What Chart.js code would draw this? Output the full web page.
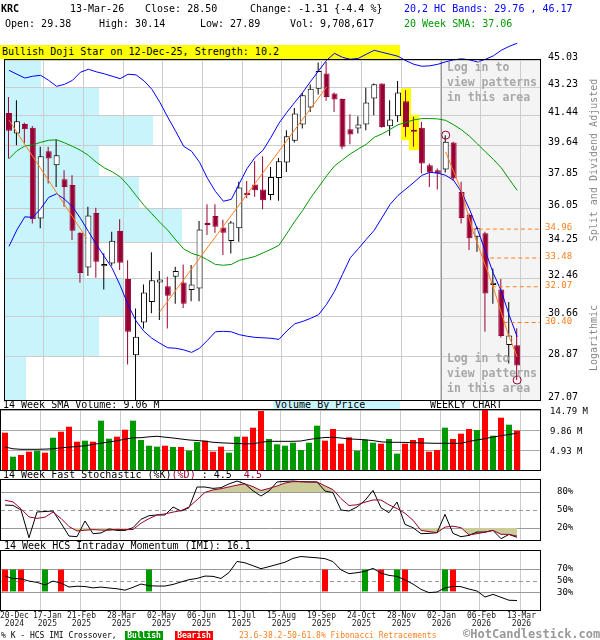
<!DOCTYPE html>
<html>
<head>
<meta charset="utf-8">
<script src="https://cdn.jsdelivr.net/npm/chart.js@4.4.1/dist/chart.umd.min.js"></script>
<style>
  body { margin: 0; background: #fff; }
  #wrap { position: relative; width: 600px; height: 640px; overflow: hidden;
          font-family: "DejaVu Sans Mono", monospace; font-size: 10px; color: #000; }
  canvas { position: absolute; left: 0; top: 0; }
  .t { position: absolute; white-space: pre; line-height: 12px; }
  .s8 { font-size: 8px; line-height: 9px; }
  .vert { color: #888; transform: translate(-50%, -50%) rotate(-90deg); }
  .login { position: absolute; left: 447px; white-space: pre; font-size: 11.5px; font-weight: bold;
           line-height: 15px; color: #a8a8a8; }
</style>
</head>
<body>
<div id="wrap">
  <div class="t" style="left:0;top:45px;width:398px;height:14px;line-height:14px;padding-left:2px;background:#ffff00">Bullish Doji Star on 12-Dec-25, Strength: 10.2</div>
  <div class="t" style="left:273px;top:400px;width:125px;height:10px;line-height:10px;padding-left:2px;background:#c8f5fc">Volume By Price</div>

  <canvas id="mainChart" width="600" height="640"></canvas>
  <canvas id="volChart" width="600" height="640"></canvas>
  <canvas id="stochChart" width="600" height="640"></canvas>
  <canvas id="imiChart" width="600" height="640"></canvas>

  <div class="t" style="left:1px;top:3px;font-weight:bold">KRC</div>
  <div class="t" style="left:70px;top:3px">13-Mar-26</div>
  <div class="t" style="left:145px;top:3px">Close: 28.50</div>
  <div class="t" style="left:250px;top:3px">Change: -1.31 {-4.4 %}</div>
  <div class="t" style="left:5px;top:18px">Open: 29.38</div>
  <div class="t" style="left:99px;top:18px">High: 30.14</div>
  <div class="t" style="left:200px;top:18px">Low: 27.89</div>
  <div class="t" style="left:290px;top:18px">Vol: 9,708,617</div>
  <div class="t" style="left:404px;top:3px;color:#0000ff">20,2 HC Bands: 29.76 , 46.17</div>
  <div class="t" style="left:404px;top:18px;color:#009900">20 Week SMA: 37.06</div>

  <div class="login" style="top:60px">Log in to
view patterns
in this area</div>
  <div class="login" style="top:351px">Log in to
view patterns
in this area</div>

  <div class="t vert" style="left:594px;top:160px">Split and Dividend Adjusted</div>
  <div class="t vert" style="left:594px;top:338px">Logarithmic</div>

  <div class="t" style="left:3px;top:399px">14 Week SMA Volume: 9.06 M</div>
  <div class="t" style="left:430px;top:399px">WEEKLY CHART</div>
  <div class="t" style="left:3px;top:469px">14 Week Fast Stochastic (%K)<span style="color:#990033">(%D)</span> : 4.5  <span style="color:#990033">4.5</span></div>
  <div class="t" style="left:4px;top:540px">14 Week HCS Intraday Momentum (IMI): 16.1</div>

  <div class="t s8" style="left:1px;top:631px">% K - HCS IMI Crossover,</div>
  <div class="t s8" style="left:125px;top:631px;width:38px;text-align:center;background:#009900;color:#fff;font-weight:bold">Bullish</div>
  <div class="t s8" style="left:175px;top:631px;width:38px;text-align:center;background:#ff0000;color:#fff;font-weight:bold">Bearish</div>
  <div class="t s8" style="left:239px;top:631px;color:#ff7f1e">23.6-38.2-50-61.8% Fibonacci Retracements</div>
  <div class="t" style="left:463px;top:628px;font-size:12px;font-weight:bold;color:#999">©HotCandlestick.com</div>
</div>

<script>
// weekly candles, 20-Dec-2024 .. 13-Mar-2026
const opens = [41.60, 40.34, 40.92, 40.68, 35.52, 39.28, 38.47, 37.67, 37.34, 34.77,
  33.01, 35.81, 33.07, 33.21, 34.86, 32.44, 28.95, 30.40, 31.35, 32.28,
  32.10, 32.55, 32.28, 31.91, 31.99, 35.26, 35.65, 35.05, 34.34, 35.00,
  36.91, 37.38, 37.10, 36.79, 37.74, 38.62, 39.90, 40.88, 41.94, 43.14,
  44.13, 42.83, 42.47, 40.59, 40.64, 40.88, 42.51, 43.47, 40.78, 41.40,
  42.34, 40.50, 40.68, 38.47, 38.18, 38.22, 39.80, 36.96, 35.70, 34.56,
  34.74, 32.15, 31.94, 29.39, 29.38];
const highs = [42.61, 42.40, 41.00, 40.80, 39.54, 39.54, 39.98, 38.18, 37.90, 34.80,
  36.15, 36.10, 33.72, 34.82, 35.48, 33.37, 31.04, 32.18, 33.77, 32.83,
  32.55, 33.04, 33.16, 33.13, 35.39, 36.29, 36.29, 35.46, 35.39, 37.53,
  37.57, 38.70, 38.99, 38.37, 38.89, 40.54, 41.91, 42.87, 43.41, 44.86,
  44.90, 42.89, 42.51, 41.52, 41.40, 43.20, 43.47, 43.47, 42.40, 43.63,
  43.04, 41.36, 41.04, 38.57, 38.28, 40.24, 39.84, 37.53, 35.79, 35.09,
  34.82, 32.96, 32.44, 31.35, 30.14];
const lows = [38.86, 39.64, 39.76, 35.26, 35.00, 37.43, 37.24, 36.15, 34.39, 32.26,
  32.59, 32.50, 31.94, 33.10, 32.88, 28.55, 26.90, 30.13, 30.82, 30.51,
  30.13, 31.27, 31.07, 31.38, 31.38, 34.65, 34.77, 33.63, 33.71, 34.30,
  36.61, 36.70, 36.02, 36.51, 36.47, 38.08, 39.80, 40.64, 41.66, 42.76,
  42.36, 41.66, 39.40, 39.70, 40.34, 40.54, 41.46, 40.68, 40.20, 41.04,
  40.14, 39.54, 38.00, 37.24, 37.09, 38.05, 37.57, 35.26, 33.88, 33.79,
  29.98, 31.27, 29.72, 28.59, 27.89];
const closes = [40.50, 41.09, 40.60, 35.48, 38.99, 38.86, 39.05, 37.24, 34.87, 32.74,
  35.68, 33.29, 33.18, 34.35, 33.24, 29.98, 29.76, 31.80, 32.39, 32.42,
  31.64, 32.84, 31.27, 32.18, 34.94, 35.17, 35.08, 34.77, 35.31, 37.21,
  36.79, 37.06, 36.51, 37.80, 38.70, 40.18, 41.56, 42.72, 43.14, 44.30,
  42.61, 42.45, 39.54, 40.28, 40.88, 42.26, 43.43, 40.74, 41.19, 42.89,
  40.74, 40.44, 38.57, 38.05, 38.00, 39.84, 37.71, 35.55, 34.48, 35.00,
  31.75, 32.26, 29.79, 29.81, 28.50];

// 20,2 bands and 20 week SMA
const bbUpper = [44.34, 44.08, 43.83, 43.95, 44.01, 43.68, 43.29, 43.42, 43.68, 44.21,
  44.41, 44.24, 44.11, 43.95, 43.79, 44.08, 44.04, 43.65, 43.10, 42.27,
  41.33, 40.47, 39.57, 39.28, 38.64, 37.72, 36.99, 36.45, 36.55, 37.42,
  38.29, 38.93, 39.34, 40.11, 40.96, 41.64, 42.27, 42.90, 43.62, 44.31,
  45.01, 45.48, 45.21, 45.08, 45.14, 45.42, 45.69, 45.55, 45.42, 45.28,
  44.98, 44.74, 44.61, 44.64, 44.74, 44.91, 45.04, 45.11, 45.04, 44.90,
  45.08, 45.31, 45.69, 45.96, 46.17];
const bbLower = [34.07, 34.92, 35.61, 35.58, 36.05, 36.66, 36.86, 36.56, 36.15, 35.53,
  34.84, 34.17, 33.56, 32.97, 32.14, 31.21, 30.47, 30.00, 29.69, 29.47,
  29.27, 29.25, 29.18, 29.07, 29.25, 29.60, 29.98, 30.00, 29.98, 29.85,
  29.78, 29.73, 29.71, 29.69, 29.64, 30.02, 30.34, 30.45, 30.59, 30.76,
  31.24, 31.85, 32.67, 33.50, 33.95, 34.43, 34.90, 35.58, 36.28, 36.77,
  37.13, 37.50, 37.89, 38.06, 38.02, 37.89, 37.61, 36.94, 36.01, 34.95,
  33.82, 32.72, 31.87, 30.73, 29.76];
const sma20 = [38.84, 39.31, 39.59, 39.66, 39.81, 39.93, 39.96, 39.78, 39.57, 39.34,
  39.04, 38.64, 38.32, 38.09, 37.81, 37.33, 36.77, 36.23, 35.77, 35.32,
  34.90, 34.40, 33.94, 33.72, 33.59, 33.39, 33.16, 33.12, 33.16, 33.36,
  33.46, 33.56, 33.74, 33.92, 34.12, 34.74, 35.37, 35.96, 36.64, 37.24,
  37.86, 38.43, 38.78, 39.13, 39.42, 39.69, 40.11, 40.32, 40.59, 40.87,
  41.02, 41.17, 41.25, 41.25, 41.23, 41.14, 40.87, 40.56, 40.17, 39.72,
  39.25, 38.81, 38.32, 37.67, 37.05];

// volume, millions
const volumes = [9.19, 3.28, 3.70, 4.51, 4.76, 4.27, 7.96, 9.44, 10.67, 6.98,
  7.23, 6.98, 12.16, 7.72, 8.21, 9.93, 12.16, 7.40, 5.99, 5.75,
  5.99, 5.67, 5.67, 4.76, 6.90, 7.23, 4.51, 5.75, 4.27, 8.21,
  8.21, 10.43, 14.55, 7.64, 6.33, 5.99, 6.73, 4.93, 6.73, 10.92,
  7.23, 10.11, 6.49, 8.05, 4.76, 7.48, 6.73, 6.49, 7.64, 4.03,
  6.49, 7.40, 7.89, 4.51, 4.93, 10.43, 7.64, 8.95, 10.11, 9.86,
  14.79, 8.46, 12.89, 11.17, 9.71];
const volSma = [5.67, 5.23, 5.10, 5.10, 5.10, 5.15, 5.23, 5.47, 5.62, 5.79,
  5.97, 6.29, 6.61, 6.90, 7.22, 7.59, 7.94, 7.96, 8.18, 8.31,
  8.09, 7.89, 7.64, 7.40, 7.27, 7.10, 6.83, 6.70, 6.61, 6.53,
  6.46, 6.46, 6.83, 7.07, 7.07, 7.07, 7.07, 7.15, 7.52, 7.81,
  8.01, 8.06, 7.89, 7.64, 7.57, 7.44, 7.25, 6.95, 6.83, 6.83,
  6.80, 6.75, 6.68, 6.61, 6.58, 6.58, 6.58, 6.58, 7.03, 7.40,
  7.72, 8.13, 8.45, 8.75, 9.06];

// 14 week fast stochastic and IMI
const stochK = [58.2, 57.7, 50, 3.8, 46.7, 47.5, 48.3, 28, 6.6, 5.5,
  31.7, 10.5, 11.7, 18.5, 16, 16, 20.5, 34.5, 40.5, 41.7,
  41.7, 55, 48.3, 53.8, 88.3, 88.3, 86, 87.2, 93.5, 98.3,
  93.5, 82, 73.3, 81.7, 96.7, 97.7, 98.3, 97.2, 96.7, 96.7,
  81.7, 78.8, 50, 48.3, 55, 66, 82.7, 53.8, 45.5, 63.3,
  26, 20.5, 10.5, 11, 12.2, 42.7, 11, 5.5, 7.7, 13.3,
  13.3, 16, 2.2, 9.3, 4.5];
const stochD = [66.3, 63.5, 52, 38.5, 36, 38, 46.5, 36, 22.5, 15,
  16.3, 17.3, 16.5, 16.2, 17.7, 17.2, 17.5, 28, 35.5, 41.7,
  43.5, 46.5, 49, 55, 67, 79.5, 83.5, 85.5, 88.5, 91.5,
  93.5, 89, 82.5, 86, 90, 95, 97.2, 97.2, 97, 96.7,
  90.2, 84, 69, 57.5, 58.7, 63, 66.7, 66.7, 58.5, 52.5,
  44.5, 33, 16, 14, 12.2, 21.5, 23, 20.5, 8.5, 10.5,
  13, 16, 9.5, 9.3, 6.5];
const imi = [57.5, 53.3, 53.0, 49.0, 46.8, 42.5, 49.0, 45.5, 39.0, 40.3,
  39.8, 37.5, 38.8, 37.3, 36.0, 33.6, 38.5, 44.0, 41.2, 40.6,
  40.6, 43.3, 47.5, 51.4, 53.5, 57.5, 57.0, 53.5, 63.5, 82.3,
  80.0, 75.0, 70.0, 73.5, 77.2, 81.0, 87.5, 90.7, 89.5, 88.5,
  87.0, 82.0, 68.0, 61.6, 63.2, 65.5, 70.5, 62.5, 58.7, 57.0,
  51.0, 44.0, 35.0, 29.5, 30.5, 37.5, 40.1, 39.5, 35.5, 32.2,
  22.0, 26.5, 21.5, 16.5, 16.1];
const bullishCross = [1, 5, 18, 45, 49, 55];
const bearishCross = [0, 2, 7, 40, 47, 50, 56];

// axes
const priceTicks = [45.03, 43.23, 41.44, 39.64, 37.85, 36.05, 34.25, 32.46, 30.66, 28.87, 27.07];
const volumeTicks = [4.93, 9.86, 14.79];
const stochLevels = [20, 50, 80];
const imiLevels = [30, 50, 70];
const dateLabels = ['20-Dec', '17-Jan', '21-Feb', '28-Mar', '02-May', '06-Jun', '11-Jul',
  '15-Aug', '19-Sep', '24-Oct', '28-Nov', '02-Jan', '06-Feb', '13-Mar'];
const yearLabels = ['2024', '2025', '2025', '2025', '2025', '2025', '2025',
  '2025', '2025', '2025', '2025', '2026', '2026', '2026'];
const labelWeeks = [0, 4, 9, 14, 19, 24, 29, 34, 39, 44, 49, 54, 59, 64];

// volume by price, price zones between the ticks, top to bottom
const vbpVolume = [36, 95, 149, 95, 135, 178, 81, 120, 95, 21];

// overlays
const trendWeeks = [[0, 9.75], [19, 40], [55, 57, 58.3, 60.9, 62.9, 64]];
const trendPrices = [[41.15, 34.50], [30.89, 43.25], [39.24, 37.0, 35.0, 32.15, 29.83, 28.87]];
const fibLevels = [34.96, 33.48, 32.07, 30.40];
const fibStartWeek = [58.3, 60.6, 60.8, 62.3];
const patternWeeks = [50, 51];
const hiddenFromWeek = 54;

const maroon = '#990033';
const upGreen = '#009900';
const downRed = '#ff0000';
const orange = '#ff7f1e';
const khaki = '#cccc99';
const FONT = 'DejaVu Sans Mono';
const X_MIN = -0.5, X_MAX = 66.875, GRID_SHIFT = 0.375;

Chart.defaults.font.family = FONT;
Chart.defaults.color = '#000';

const isUp = i => closes[i] >= opens[i];
const pts = arr => arr.map((v, i) => ({ x: i, y: v }));

function weekAxis(extra) {
  return Object.assign({
    type: 'linear', min: X_MIN, max: X_MAX, offset: false,
    afterBuildTicks: s => { s.ticks = labelWeeks.slice(1).map(w => ({ value: w + GRID_SHIFT })); },
    afterFit: s => { s.height = 0; },
    ticks: { display: false, autoSkip: false },
    border: { display: false },
    grid: { color: '#cccccc', drawTicks: false, offset: false }
  }, extra || {});
}

function rightAxis(extra) {
  return Object.assign({
    position: 'right',
    afterFit: s => { s.width = 60; },
    border: { display: false }
  }, extra);
}

function baseOptions(top, bottom, scales) {
  return {
    responsive: false, animation: false, devicePixelRatio: 1, events: [],
    layout: { padding: { left: 1, right: 0, top: top, bottom: 640 - bottom } },
    plugins: { legend: { display: false }, tooltip: { enabled: false } },
    scales: scales
  };
}

const frame = {
  id: 'frame',
  afterDraw(chart) {
    const { ctx, chartArea: a } = chart;
    ctx.save();
    ctx.strokeStyle = '#000';
    ctx.lineWidth = 1;
    ctx.strokeRect(a.left - 0.5, a.top - 0.5, a.right - a.left + 1, a.bottom - a.top + 1);
    ctx.restore();
  }
};

function levelLines(solid, dashed) {
  return {
    id: 'levels',
    beforeDatasetsDraw(chart) {
      const { ctx, chartArea: a, scales: { y } } = chart;
      ctx.save();
      ctx.strokeStyle = '#999999';
      ctx.lineWidth = 1;
      const line = v => {
        const py = Math.round(y.getPixelForValue(v)) + 0.5;
        ctx.beginPath(); ctx.moveTo(a.left, py); ctx.lineTo(a.right, py); ctx.stroke();
      };
      solid.forEach(line);
      ctx.setLineDash([4, 3]);
      dashed.forEach(line);
      ctx.restore();
    }
  };
}

// ---- price panel
const mainDecor = {
  id: 'mainDecor',
  beforeDraw(chart) {
    const { ctx, chartArea: a, scales: { x, y } } = chart;
    ctx.save();
    const hx = Math.round(x.getPixelForValue(hiddenFromWeek + GRID_SHIFT));
    ctx.fillStyle = '#f4f4f4';
    ctx.fillRect(hx, a.top, a.right - hx, a.bottom - a.top);
    const vmax = Math.max(...vbpVolume);
    ctx.fillStyle = '#c8f5fc';
    vbpVolume.forEach((v, k) => {
      const t = Math.round(y.getPixelForValue(priceTicks[k]));
      const b = Math.round(y.getPixelForValue(priceTicks[k + 1]));
      ctx.fillRect(a.left, t, Math.round(v / vmax * (a.right - a.left) * 0.33), b - t);
    });
    ctx.restore();
  },
  beforeDatasetsDraw(chart) {
    const { ctx, chartArea: a, scales: { x } } = chart;
    const hx = Math.round(x.getPixelForValue(hiddenFromWeek + GRID_SHIFT)) + 0.5;
    ctx.save();
    ctx.strokeStyle = '#999999';
    ctx.beginPath(); ctx.moveTo(hx, a.top); ctx.lineTo(hx, a.bottom); ctx.stroke();
    ctx.restore();
  },
  afterDraw(chart) {
    const { ctx, chartArea: a, scales: { y } } = chart;
    ctx.save();
    ctx.font = '9px "' + FONT + '"';
    ctx.fillStyle = orange;
    ctx.textBaseline = 'middle';
    fibLevels.forEach(v => ctx.fillText(v.toFixed(2), a.right + 5, y.getPixelForValue(v) - 1));
    ctx.restore();
  }
};

const lineDs = (data, color, extra) => Object.assign({
  type: 'line', data: data, borderColor: color, borderWidth: 1,
  pointRadius: 0, tension: 0, fill: false, order: 2
}, extra || {});

const mainDatasets = [
  { type: 'bar', xAxisID: 'x', order: 9, grouped: false, inflateAmount: 0, barThickness: 10,
    backgroundColor: '#ffff00',
    data: patternWeeks.map(w => ({ x: w, y: [lows[w] * 0.995, highs[w] * 1.003] })) },
  { type: 'bar', xAxisID: 'xw', order: 4, grouped: false, inflateAmount: 0, barThickness: 1,
    backgroundColor: c => isUp(c.dataIndex) ? '#000000' : maroon,
    data: closes.map((c, i) => ({ x: i, y: [lows[i], highs[i]] })) },
  { type: 'bar', xAxisID: 'x', order: 3, grouped: false, inflateAmount: 0, barThickness: 6,
    minBarLength: 2, borderWidth: 1, borderSkipped: false,
    backgroundColor: c => isUp(c.dataIndex) ? '#ffffff' : maroon,
    borderColor: c => isUp(c.dataIndex) ? '#000000' : maroon,
    data: closes.map((c, i) => ({ x: i, y: [opens[i], c] })) },
  lineDs(pts(sma20), '#009900'),
  lineDs(pts(bbUpper), '#0000ff', { clip: false }),
  lineDs(pts(bbLower), '#0000ff'),
  ...trendWeeks.map((ws, k) => lineDs(ws.map((w, j) => ({ x: w, y: trendPrices[k][j] })), orange, { order: 1 })),
  ...fibLevels.map((v, k) => lineDs([{ x: fibStartWeek[k], y: v }, { x: X_MAX, y: v }], orange,
    { order: 1, borderDash: [4, 3] })),
  { type: 'line', showLine: false, order: 0, pointRadius: 4, pointBorderWidth: 1,
    pointBorderColor: maroon, pointBackgroundColor: 'rgba(0,0,0,0)',
    data: [{ x: 55, y: highs[55] }, { x: 64, y: lows[64] }] }
];

new Chart(document.getElementById('mainChart'), {
  type: 'bar',
  data: { datasets: mainDatasets },
  options: baseOptions(60, 400, {
    x: weekAxis(),
    xw: weekAxis({ min: X_MIN + 0.0625, max: X_MAX + 0.0625, display: false }),
    y: rightAxis({
      type: 'logarithmic', min: 27.07, max: 45.03,
      afterBuildTicks: s => { s.ticks = priceTicks.map(v => ({ value: v })); },
      ticks: { callback: v => Number(v).toFixed(2), font: { size: 10 }, padding: 8, labelOffset: -3, autoSkip: false },
      grid: { color: '#cccccc', drawTicks: false }
    })
  }),
  plugins: [mainDecor, frame]
});

// ---- volume panel
new Chart(document.getElementById('volChart'), {
  type: 'bar',
  data: { datasets: [
    lineDs(pts(volSma), '#000000', { order: 0 }),
    { type: 'bar', order: 1, grouped: false, inflateAmount: 0, barThickness: 6,
      backgroundColor: c => isUp(c.dataIndex) ? upGreen : downRed,
      data: volumes.map((v, i) => ({ x: i, y: v })) }
  ] },
  options: baseOptions(410, 470, {
    x: weekAxis(),
    y: rightAxis({
      type: 'linear', min: 0, max: 14.79,
      afterBuildTicks: s => { s.ticks = volumeTicks.map(v => ({ value: v })); },
      ticks: { callback: v => Number(v).toFixed(2) + ' M', font: { size: 9 }, padding: 10, labelOffset: 2, autoSkip: false },
      grid: { color: '#aaaaaa', drawTicks: false }
    })
  }),
  plugins: [frame]
});

// ---- stochastic panel
new Chart(document.getElementById('stochChart'), {
  type: 'line',
  data: { datasets: [
    lineDs(pts(stochD), 'rgba(0,0,0,0)', { order: 5, fill: { target: { value: 80 }, above: khaki, below: 'rgba(0,0,0,0)' } }),
    lineDs(pts(stochD), 'rgba(0,0,0,0)', { order: 5, fill: { target: { value: 20 }, above: 'rgba(0,0,0,0)', below: khaki } }),
    lineDs(pts(stochK), '#000000', { order: 1 }),
    lineDs(pts(stochD), maroon, { order: 0 })
  ] },
  options: baseOptions(480, 540, {
    x: weekAxis(),
    y: rightAxis({
      type: 'linear', min: 0, max: 100,
      afterBuildTicks: s => { s.ticks = stochLevels.map(v => ({ value: v })); },
      ticks: { callback: v => v + '%', font: { size: 9 }, padding: 9, autoSkip: false },
      grid: { display: false }
    })
  }),
  plugins: [levelLines([20, 80], [50]), frame]
});

// ---- IMI panel with date axis
const dateAxis = {
  id: 'dateAxis',
  afterDraw(chart) {
    const { ctx, chartArea: a, scales: { x } } = chart;
    ctx.save();
    ctx.font = '8px "' + FONT + '"';
    ctx.fillStyle = '#222';
    ctx.textAlign = 'center';
    ctx.textBaseline = 'middle';
    let prevRight = -Infinity;
    labelWeeks.forEach((w, k) => {
      let px = x.getPixelForValue(w + GRID_SHIFT) + 1.5;
      const half = ctx.measureText(dateLabels[k]).width / 2;
      if (px - half < 0) px = half;
      if (px - half < prevRight + 4) px = prevRight + 4 + half;
      prevRight = px + half;
      ctx.fillText(dateLabels[k], px, a.bottom + 6);
      ctx.fillText(yearLabels[k], px, a.bottom + 13.5);
    });
    ctx.restore();
  }
};

new Chart(document.getElementById('imiChart'), {
  type: 'bar',
  data: { datasets: [
    lineDs(pts(imi), '#000000', { order: 0 }),
    { type: 'bar', order: 1, grouped: false, inflateAmount: 0, barThickness: 6, backgroundColor: upGreen,
      data: bullishCross.map(w => ({ x: w, y: [31.5, 68.5] })) },
    { type: 'bar', order: 1, grouped: false, inflateAmount: 0, barThickness: 6, backgroundColor: downRed,
      data: bearishCross.map(w => ({ x: w, y: [31.5, 68.5] })) }
  ] },
  options: baseOptions(551, 610, {
    x: weekAxis(),
    y: rightAxis({
      type: 'linear', min: 0, max: 100,
      afterBuildTicks: s => { s.ticks = imiLevels.map(v => ({ value: v })); },
      ticks: { callback: v => v + '%', font: { size: 9 }, padding: 9, autoSkip: false },
      grid: { display: false }
    })
  }),
  plugins: [levelLines([30, 70], [50]), frame, dateAxis]
});
</script>
</body>
</html>
